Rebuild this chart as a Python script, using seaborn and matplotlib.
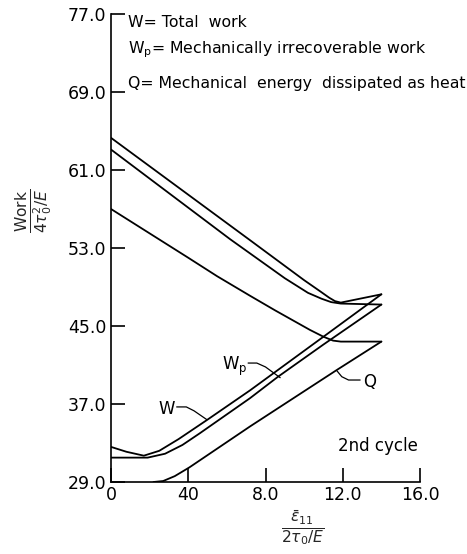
import matplotlib
matplotlib.use("Agg")
import matplotlib.pyplot as plt
import seaborn as sns
import pandas as pd

# strain values / work values (2nd cycle)
w_down_x = [0, 7.2, 10.0, 10.8, 11.3, 11.6, 11.9, 14.0]
w_down_y = [64.3, 53.8, 49.7, 48.6, 47.9, 47.55, 47.4, 48.25]
wp_down_x = [0, 6.17, 9.0, 10.2, 10.9, 11.4, 11.9, 14.0]
wp_down_y = [63.1, 53.9, 49.9, 48.4, 47.8, 47.45, 47.3, 47.2]
q_down_x = [0, 2.0, 4.0, 5.5, 7.2, 8.5, 10.3, 11.0, 11.5, 11.9, 14.0]
q_down_y = [57.0, 54.5, 52.0, 50.1, 48.1, 46.6, 44.6, 43.9, 43.5, 43.4, 43.4]

w_up_x = [0, 0.8, 1.7, 2.5, 3.5, 5.0, 7.2, 11.0, 14.0]
w_up_y = [32.6, 32.1, 31.7, 32.2, 33.4, 35.4, 38.4, 43.9, 48.25]
wp_up_x = [0, 1.9, 2.8, 3.7, 4.6, 7.2, 8.65, 11.0, 14.0]
wp_up_y = [31.5, 31.5, 31.9, 32.8, 34.0, 37.6, 39.8, 43.1, 47.2]
q_up_x = [2.2, 2.7, 3.3, 4.06, 7.2, 11.7, 14.0]
q_up_y = [29.0, 29.1, 29.6, 30.5, 34.7, 40.5, 43.4]

# leader lines from curve labels
w_lead_x = [3.4, 3.9, 4.3, 4.96]
w_lead_y = [36.7, 36.7, 36.3, 35.4]
wp_lead_x = [7.1, 7.55, 8.0, 8.76]
wp_lead_y = [41.2, 41.2, 40.8, 39.7]
q_lead_x = [11.7, 11.95, 12.3, 12.9]
q_lead_y = [40.4, 39.8, 39.46, 39.46]

xticks = [0, 4, 8, 12, 16]
xtick_labels = ["0", "40", "8.0", "12.0", "16.0"]
yticks = [29, 37, 45, 53, 61, 69, 77]
ytick_labels = ["29.0", "37.0", "45.0", "53.0", "61.0", "69.0", "77.0"]

legend_lines = ["W= Total  work",
                "W$_\\mathrm{p}$= Mechanically irrecoverable work",
                "Q= Mechanical  energy  dissipated as heat"]

sns.set_style("ticks")
plt.rcParams["font.family"] = ["DejaVu Sans"]
plt.rcParams["mathtext.fontset"] = "dejavusans"
plt.rcParams["text.color"] = "black"

fig = plt.figure(figsize=(4.67, 5.54), dpi=100)
ax = fig.add_axes([111 / 467, 1 - 482 / 554, 309 / 467, 468 / 554])

curves = [(w_down_x, w_down_y), (wp_down_x, wp_down_y), (q_down_x, q_down_y),
          (w_up_x, w_up_y), (wp_up_x, wp_up_y), (q_up_x, q_up_y)]
for cx, cy in curves:
    df = pd.DataFrame({"x": cx, "y": cy})
    sns.lineplot(data=df, x="x", y="y", sort=False, color="black", lw=1.3, ax=ax)

for lx, ly in [(w_lead_x, w_lead_y), (wp_lead_x, wp_lead_y), (q_lead_x, q_lead_y)]:
    ax.plot(lx, ly, color="black", lw=0.9)

ax.set_xlim(0, 16)
ax.set_ylim(29, 77)
ax.set_xticks(xticks)
ax.set_xticklabels(xtick_labels)
ax.set_yticks(yticks)
ax.set_yticklabels(ytick_labels)
ax.tick_params(direction="in", length=10, width=1.2, labelsize=12.5, colors="black")
ax.tick_params(axis="x", pad=3)
sns.despine(ax=ax)
for s in ["left", "bottom"]:
    ax.spines[s].set_linewidth(1.2)
    ax.spines[s].set_color("black")

ax.set_xlabel(r"$\frac{\bar{\epsilon}_{11}}{2\tau_0/E}$", fontsize=16)
ax.xaxis.set_label_coords(0.62, -0.055)
ax.set_ylabel(r"$\frac{\mathrm{Work}}{4\tau_0^2/E}$", fontsize=16)
ax.yaxis.set_label_coords(-0.18, 0.58)

for i, t in enumerate(legend_lines):
    ax.text(0.88, [76.1, 73.3, 69.9][i], t, fontsize=11.3, va="center", ha="left")

ax.text(15.9, 32.7, "2nd cycle", fontsize=12, ha="right", va="center")

ax.text(2.9, 36.5, "W", fontsize=12, ha="center", va="center")
ax.text(6.4, 40.9, "W$_\\mathrm{p}$", fontsize=12, ha="center", va="center")
ax.text(13.4, 39.3, "Q", fontsize=12, ha="center", va="center")

fig.savefig("out.png", dpi=100)
